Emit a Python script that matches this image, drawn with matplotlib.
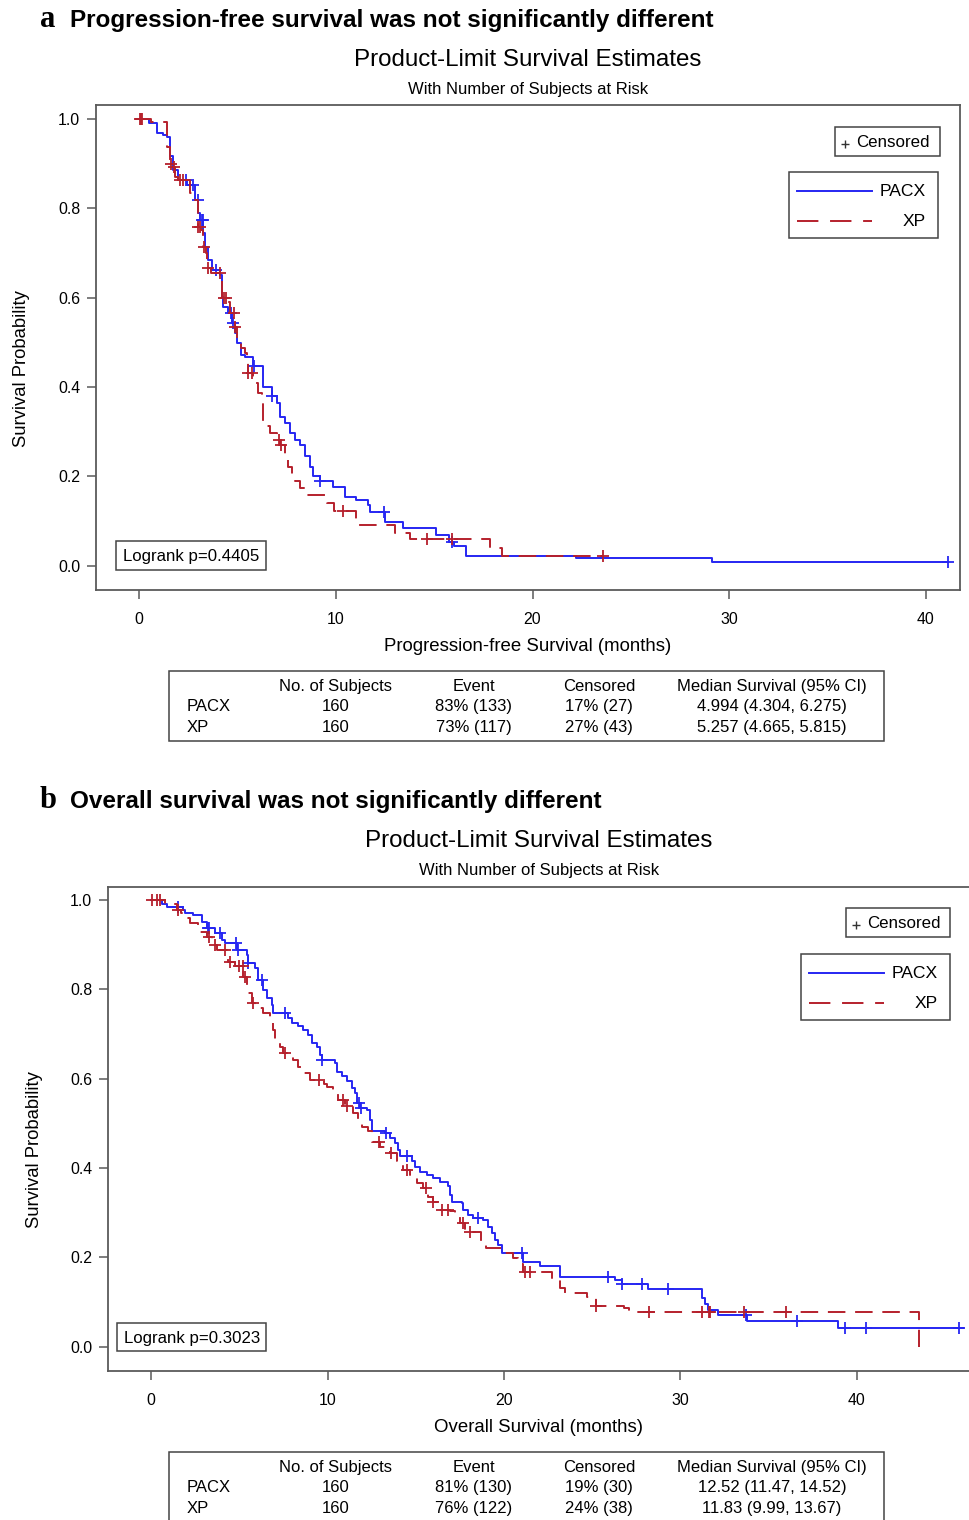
import numpy as np
import matplotlib
matplotlib.use("Agg")
import matplotlib.pyplot as plt
from matplotlib.patches import Rectangle
from matplotlib.lines import Line2D

plt.rcParams['font.family'] = ['Liberation Sans', 'DejaVu Sans']

# ---------------- data ----------------
groups = ["PACX", "XP"]

# Panel a: progression-free survival (step times, survival after step)
pfs_pacx_t = [0, 0.5, 0.9, 1.2, 1.4, 1.57, 1.74, 2.0, 2.42, 2.84, 3.01, 3.1, 3.26, 3.35, 3.52, 3.69,
              4.1, 4.2, 4.28, 4.53, 4.7, 4.87, 4.96, 5.2, 5.38, 5.8, 6.3, 6.74, 6.99, 7.16, 7.41, 7.66,
              7.92, 8.17, 8.43, 8.68, 8.85, 9.19, 9.86, 10.46, 11.05, 11.64, 11.73, 12.49, 13.42,
              15.1, 15.75, 16.0, 16.6, 22.2, 29.1]
pfs_pacx_s = [1.0, 0.99, 0.968, 0.965, 0.96, 0.916, 0.886, 0.864, 0.852, 0.819, 0.789, 0.774, 0.744,
              0.714, 0.685, 0.662, 0.651, 0.602, 0.58, 0.565, 0.543, 0.52, 0.498, 0.472, 0.468, 0.446,
              0.401, 0.379, 0.364, 0.334, 0.319, 0.297, 0.282, 0.271, 0.245, 0.222, 0.20, 0.189, 0.177,
              0.155, 0.148, 0.136, 0.121, 0.099, 0.084, 0.069, 0.053, 0.045, 0.023, 0.017, 0.008]
pfs_pacx_end = 41.1
pfs_pacx_cens = [2.4, 2.75, 3.0, 3.2, 3.25, 3.9, 4.65, 4.75, 5.85, 6.75, 9.2, 12.45, 15.9, 41.1]

pfs_xp_t = [0, 0.6, 1.4, 1.57, 1.74, 1.85, 2.0, 2.6, 2.84, 3.0, 3.17, 3.26, 3.4, 3.47, 3.65, 4.2,
            4.45, 4.62, 4.87, 4.96, 5.2, 5.38, 5.47, 5.55, 5.8, 6.06, 6.23, 6.28, 6.31, 6.65, 6.99,
            7.16, 7.41, 7.58, 7.75, 7.92, 8.17, 8.51, 9.53, 9.9, 11.05, 11.2, 13.0, 13.76, 17.85, 18.45]
pfs_xp_s = [1.0, 0.994, 0.938, 0.9, 0.893, 0.87, 0.864, 0.834, 0.819, 0.759, 0.752, 0.714, 0.7, 0.666,
            0.655, 0.599, 0.59, 0.565, 0.535, 0.506, 0.488, 0.477, 0.461, 0.431, 0.409, 0.386, 0.371,
            0.334, 0.312, 0.297, 0.282, 0.271, 0.237, 0.222, 0.196, 0.189, 0.174, 0.159, 0.14, 0.123,
            0.103, 0.092, 0.073, 0.06, 0.04, 0.021]
pfs_xp_end = 23.6
pfs_xp_cens = [0.05, 0.1, 0.15, 1.6, 1.8, 2.1, 2.25, 3.0, 3.1, 3.3, 3.5, 4.1, 4.3, 4.4, 4.8, 4.9,
               5.55, 5.75, 7.1, 7.2, 10.35, 14.65, 15.9, 23.6]

# Panel b: overall survival
os_pacx_t = [0, 0.6, 0.89, 1.8, 1.95, 2.4, 2.9, 3.15, 3.63, 4.0, 4.2, 4.85, 5.42, 5.5, 5.9, 6.08,
             6.37, 6.55, 6.84, 6.93, 7.75, 7.97, 8.35, 8.63, 8.91, 9.1, 9.39, 9.58, 9.67, 10.42,
             10.52, 10.8, 11.09, 11.37, 11.56, 11.65, 11.84, 12.22, 12.4, 12.5, 13.26, 13.54, 13.82,
             14.0, 14.1, 14.77, 14.96, 15.24, 15.62, 16.0, 16.37, 16.85, 16.94, 17.03, 17.6, 17.7,
             17.98, 18.26, 18.83, 19.11, 19.3, 19.49, 19.68, 19.87, 21.1, 22.04, 23.17, 26.3, 26.67,
             28.17, 31.2, 31.4, 31.58, 32.15, 33.75, 38.95]
os_pacx_s = [1.0, 0.99, 0.985, 0.977, 0.97, 0.966, 0.95, 0.937, 0.925, 0.91, 0.903, 0.888, 0.877,
             0.858, 0.847, 0.821, 0.799, 0.78, 0.765, 0.746, 0.735, 0.724, 0.717, 0.709, 0.698, 0.679,
             0.672, 0.653, 0.642, 0.635, 0.616, 0.605, 0.594, 0.579, 0.568, 0.545, 0.534, 0.53, 0.508,
             0.482, 0.478, 0.467, 0.456, 0.441, 0.426, 0.415, 0.403, 0.392, 0.385, 0.377, 0.37, 0.359,
             0.34, 0.325, 0.321, 0.306, 0.295, 0.288, 0.284, 0.269, 0.254, 0.239, 0.228, 0.21, 0.189,
             0.181, 0.156, 0.15, 0.141, 0.129, 0.109, 0.095, 0.083, 0.072, 0.057, 0.042]
os_pacx_end = 46.0
os_pacx_cens = [1.55, 3.2, 3.3, 3.9, 4.8, 4.9, 5.5, 6.3, 7.6, 9.7, 11.8, 11.9, 13.3, 14.5, 18.5,
                21.0, 25.9, 26.7, 27.8, 29.3, 33.7, 36.6, 39.3, 40.5, 45.8]

os_xp_t = [0, 0.8, 1.46, 1.7, 1.93, 2.2, 2.68, 3.15, 3.44, 3.72, 4.29, 4.38, 4.76, 5.23, 5.42, 5.51,
           5.7, 5.89, 6.36, 6.74, 6.93, 7.03, 7.31, 7.5, 8.06, 8.35, 8.63, 9.0, 9.8, 9.95, 10.33,
           10.6, 11.0, 11.46, 11.75, 11.94, 12.3, 12.5, 12.97, 13.54, 13.92, 14.3, 14.67, 15.05,
           15.43, 15.71, 16.0, 16.28, 16.94, 17.22, 17.5, 17.8, 18.7, 19.0, 19.87, 20.5, 20.8, 21.1,
           22.7, 23.17, 23.45, 24.7, 25.2, 26.8, 27.1, 43.5]
os_xp_s = [1.0, 0.991, 0.978, 0.97, 0.959, 0.948, 0.929, 0.918, 0.9, 0.888, 0.877, 0.862, 0.852,
           0.828, 0.806, 0.791, 0.769, 0.758, 0.746, 0.732, 0.709, 0.687, 0.672, 0.657, 0.642, 0.627,
           0.612, 0.597, 0.588, 0.582, 0.568, 0.553, 0.538, 0.523, 0.508, 0.493, 0.482, 0.459, 0.448,
           0.433, 0.415, 0.396, 0.385, 0.366, 0.355, 0.336, 0.325, 0.306, 0.303, 0.292, 0.277, 0.258,
           0.236, 0.221, 0.21, 0.198, 0.185, 0.168, 0.151, 0.131, 0.12, 0.111, 0.092, 0.087, 0.077,
           0.0]
os_xp_end = 43.5
os_xp_cens = [0.04, 0.32, 0.51, 1.5, 3.3, 3.6, 4.2, 4.45, 5.0, 5.2, 5.3, 5.8, 7.6, 9.5, 10.9, 11.1,
              12.9, 13.6, 14.5, 15.6, 16.0, 16.5, 16.8, 17.7, 18.1, 21.2, 21.5, 25.2, 28.2, 31.2,
              31.6, 31.7, 33.6, 36.0]

x_ticks = [0, 10, 20, 30, 40]
y_ticks = [0.0, 0.2, 0.4, 0.6, 0.8, 1.0]

table_header = ["No. of Subjects", "Event", "Censored", "Median Survival (95% CI)"]
pfs_table = [["160", "83% (133)", "17% (27)", "4.994 (4.304, 6.275)"],
             ["160", "73% (117)", "27% (43)", "5.257 (4.665, 5.815)"]]
os_table = [["160", "81% (130)", "19% (30)", "12.52 (11.47, 14.52)"],
            ["160", "76% (122)", "24% (38)", "11.83 (9.99, 13.67)"]]
pfs_p = "Logrank p=0.4405"
os_p = "Logrank p=0.3023"

# ---------------- style ----------------
W, H = 970, 1520
BLUE = '#2626f2'
RED = '#b5202c'
SPINE = '#5a5a5a'
DASH = (9, 5)


def fx(x):
    return x / W


def fy(y):
    return 1 - y / H


fig = plt.figure(figsize=(W / 100, H / 100), dpi=100)


def km(ax, t, s, end, cens, color, dashed):
    tt = list(t) + [end]
    ss = list(s) + [s[-1]]
    ln, = ax.step(tt, ss, where='post', color=color, lw=1.4)
    if dashed:
        ln.set_dashes(DASH)
    tarr = np.array(t)
    sarr = np.array(s)
    idx = np.searchsorted(tarr, np.array(cens), side='right') - 1
    ax.plot(cens, sarr[idx], ls='none', marker='+', ms=8, mew=1.3, color=color)


def box(x0, y0, x1, y1, lw=1.1):
    fig.add_artist(Rectangle((fx(x0), fy(y1)), (x1 - x0) / W, (y1 - y0) / H,
                             transform=fig.transFigure, fill=False, ec='#444444', lw=lw))


def panel(letter, heading, ytop, axbox, xlim, ylim, curves, xlabel, ylab_x, ylab_y,
          pbox, cbox, lbox, tbox, trows, ptext):
    off = ytop
    fig.text(fx(40), fy(off + 27), letter, family='Liberation Serif', weight='bold',
             fontsize=22, va='baseline', ha='left')
    fig.text(fx(70), fy(off + 27), heading, weight='bold', fontsize=17.5, va='baseline', ha='left')
    x0, y0, x1, y1 = axbox
    cx = (x0 + x1) / 2 if x1 < W else (x0 + 970) / 2
    fig.text(fx(cx), fy(off + 66), "Product-Limit Survival Estimates", fontsize=17.4,
             ha='center', va='baseline')
    fig.text(fx(cx), fy(off + 94), "With Number of Subjects at Risk", fontsize=12,
             ha='center', va='baseline')
    ax = fig.add_axes([fx(x0), fy(y1), (x1 - x0) / W, (y1 - y0) / H])
    for c in curves:
        km(ax, *c)
    ax.set_xlim(*xlim)
    ax.set_ylim(*ylim)
    ax.set_xticks(x_ticks)
    ax.set_yticks(y_ticks)
    ax.set_yticklabels([f"{v:.1f}" for v in y_ticks])
    ax.tick_params(axis='both', labelsize=11.4, length=6.5, width=1.1, color=SPINE)
    ax.tick_params(axis='y', pad=5)
    ax.tick_params(axis='x', pad=9)
    for sp in ax.spines.values():
        sp.set_color(SPINE)
        sp.set_linewidth(1.3)
    fig.text(fx(cx), fy(xlabel[1]), xlabel[0], fontsize=13.4, ha='center', va='baseline')
    fig.text(fx(ylab_x), fy(ylab_y), "Survival Probability", fontsize=13.3, rotation=90,
             ha='center', va='center')
    # logrank box
    bx0, by0, bx1, by1 = pbox
    box(bx0, by0, bx1, by1)
    fig.text(fx(bx0 + 7), fy((by0 + by1) / 2 + 1), ptext, fontsize=12.1, ha='left', va='center')
    # censored legend
    cx0, cy0, cx1, cy1 = cbox
    box(cx0, cy0, cx1, cy1)
    fig.add_artist(Line2D([fx(cx0 + 10)], [fy((cy0 + cy1) / 2 + 2)], marker='+', ms=6, mew=1.0,
                          color='#333333', transform=fig.transFigure))
    fig.text(fx(cx0 + 21), fy((cy0 + cy1) / 2 + 1), "Censored", fontsize=12.2, ha='left',
             va='center')
    # group legend
    lx0, ly0, lx1, ly1 = lbox
    box(lx0, ly0, lx1, ly1)
    rows_y = [ly0 + 18.5, ly0 + 48.5]
    for g, col, dashed, yy in zip(groups, [BLUE, RED], [False, True], rows_y):
        l = Line2D([fx(lx0 + 8), fx(lx0 + 83)], [fy(yy), fy(yy)], color=col, lw=1.4,
                   transform=fig.transFigure)
        if dashed:
            l.set_dashes((11, 6))
        fig.add_artist(l)
        fig.text(fx(lx1 - 12), fy(yy + 1), g, fontsize=12.6, ha='right', va='center')
    # table
    tx0, ty0, tx1, ty1 = tbox
    box(tx0, ty0, tx1, ty1)
    col_x = [336, 474, 599, 772]
    ry = [ty0 + 15.5, ty0 + 35.5, ty0 + 56.5]
    for cxx, h in zip(col_x, table_header):
        fig.text(fx(cxx), fy(ry[0]), h, fontsize=12, ha='center', va='center')
    for r, (g, row) in enumerate(zip(groups, trows)):
        fig.text(fx(187), fy(ry[r + 1]), g, fontsize=12, ha='left', va='center')
        for cxx, v in zip(col_x, row):
            fig.text(fx(cxx), fy(ry[r + 1]), v, fontsize=12, ha='center', va='center')
    return ax


# panel a
panel("a", "Progression-free survival was not significantly different", 0,
      (96, 105, 960, 590), (-2.19, 41.73), (-0.054, 1.031),
      [(pfs_pacx_t, pfs_pacx_s, pfs_pacx_end, pfs_pacx_cens, BLUE, False),
       (pfs_xp_t, pfs_xp_s, pfs_xp_end, pfs_xp_cens, RED, True)],
      ("Progression-free Survival (months)", 651), 22, 369,
      (116, 541, 266, 570), (835, 127, 940, 156), (789, 172, 938, 238),
      (169, 671, 884, 741), pfs_table, pfs_p)

# panel b
panel("b", "Overall survival was not significantly different", 781,
      (108, 887, 975, 1371), (-2.44, 46.69), (-0.054, 1.029),
      [(os_pacx_t, os_pacx_s, os_pacx_end, os_pacx_cens, BLUE, False),
       (os_xp_t, os_xp_s, os_xp_end, os_xp_cens, RED, True)],
      ("Overall Survival (months)", 1432), 35, 1150,
      (117, 1323, 266, 1351), (846, 908, 950, 937), (801, 954, 950, 1020),
      (169, 1452, 884, 1530), os_table, os_p)

fig.savefig("out.png", dpi=100)
